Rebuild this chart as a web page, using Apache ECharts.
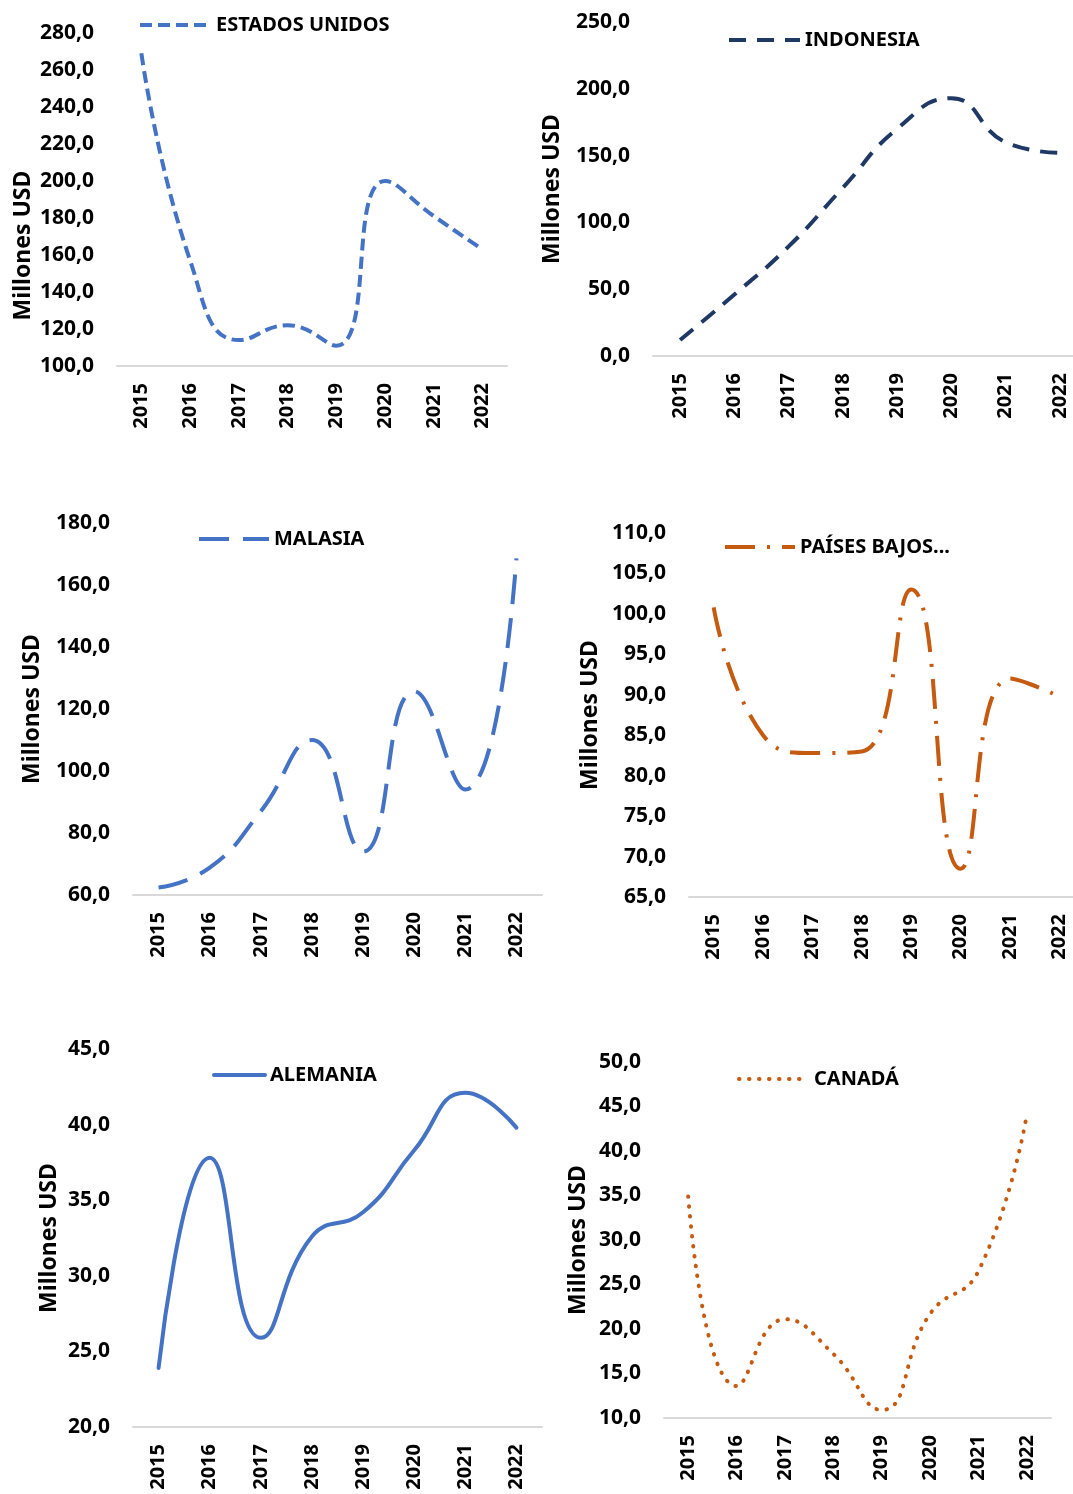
<!DOCTYPE html>
<html>
<head>
<meta charset="utf-8">
<script src="https://cdn.jsdelivr.net/npm/echarts@6/dist/echarts.min.js"></script>
<style>
  html, body { margin: 0; padding: 0; background: #ffffff; overflow: hidden; }
  #chart { width: 1100px; height: 1494px; }
</style>
</head>
<body>
<div id="chart"></div>
<script>
// datos (millones USD)
const years = ['2015', '2016', '2017', '2018', '2019', '2020', '2021', '2022'];
const estadosUnidos = [269, 157, 114, 122, 111, 200, 181, 163];
const indonesia = [12, 46, 82, 126, 170, 193, 160, 152];
const malasia = [62.4, 68.8, 87, 110, 74, 125.7, 94, 168.6];
const paisesBajos = [100.8, 85, 82.8, 83, 103, 68.5, 92, 89.8];
const alemania = [23.9, 37.8, 25.9, 32.6, 34.2, 38.3, 42.1, 39.8];
const canada = [34.9, 13.6, 21.1, 17.2, 10.9, 21.7, 26.5, 44.1];

const blue = '#4472C4';
const navy = '#203864';
const orange = '#C55A11';
const fontFamily = '"Noto Sans", "DejaVu Sans", sans-serif';

// un panel por país (los de la derecha se salen un poco del borde, como en el original)
const panels = [
  { name: 'ESTADOS UNIDOS', data: estadosUnidos, color: blue, dash: [12, 6], cap: 'butt',
    min: 100, max: 280, interval: 20,
    grid: { left: 117, top: 33, width: 390, height: 333 }, nameGap: 82, namePad: 92,
    legend: { left: 138, cy: 23, w: 71, gap: 0 } },
  { name: 'INDONESIA', data: indonesia, color: navy, dash: [17, 11], cap: 'butt',
    min: 0, max: 250, interval: 50,
    grid: { left: 653, top: 22, width: 434, height: 334 }, nameGap: 89, namePad: 0,
    legend: { left: 727, cy: 38, w: 71, gap: 0 } },
  { name: 'MALASIA', data: malasia, color: blue, dash: [30, 14], cap: 'butt',
    min: 60, max: 180, interval: 20,
    grid: { left: 133, top: 523, width: 409, height: 372 }, nameGap: 89, namePad: 0,
    legend: { left: 197, cy: 537, w: 70, gap: 0 } },
  { name: 'PAÍSES BAJOS...', data: paisesBajos, color: orange, dash: [30, 12, 3, 12], cap: 'butt',
    min: 65, max: 110, interval: 5,
    grid: { left: 689, top: 533, width: 395, height: 364 }, nameGap: 87, namePad: 0,
    legend: { left: 723, cy: 545, w: 70, gap: 0 } },
  { name: 'ALEMANIA', data: alemania, color: blue, dash: 'solid', cap: 'round',
    min: 20, max: 45, interval: 5,
    grid: { left: 133, top: 1049, width: 409, height: 378 }, nameGap: 72, namePad: 0,
    legend: { left: 212, cy: 1073, w: 51, gap: 0 } },
  { name: 'CANADÁ', data: canada, color: orange, dash: [0.5, 9.5], cap: 'round',
    min: 10, max: 50, interval: 5,
    grid: { left: 664, top: 1062, width: 387, height: 356 }, nameGap: 74, namePad: 0,
    legend: { left: 737, cy: 1077, w: 64, gap: 6 } }
];

const fmt = v => v.toFixed(1).replace('.', ',');

let myChart = echarts.init(document.getElementById('chart'));

let option = {
  backgroundColor: '#ffffff',
  animation: false,
  textStyle: { fontFamily: fontFamily },
  grid: panels.map(p => p.grid),
  legend: panels.map((p, i) => ({
    data: [p.name],
    left: p.legend.left,
    top: p.legend.cy - 8,
    padding: 0,
    itemWidth: p.legend.w,
    itemHeight: 14,
    itemGap: 0,
    itemStyle: { opacity: 0 },
    lineStyle: { width: 4 },
    textStyle: {
      fontSize: 20, fontWeight: 'bold', color: '#000', fontFamily: fontFamily,
      padding: [0, 0, 0, p.legend.gap]
    }
  })),
  xAxis: panels.map((p, i) => ({
    type: 'category',
    gridIndex: i,
    data: years,
    boundaryGap: true,
    axisTick: { show: false },
    axisLine: { lineStyle: { color: '#d9d9d9', width: 2 } },
    axisLabel: {
      rotate: 90, margin: 17, interval: 0,
      fontSize: 20, fontWeight: 'bold', color: '#000', fontFamily: fontFamily
    },
    splitLine: { show: false }
  })),
  yAxis: panels.map((p, i) => ({
    type: 'value',
    gridIndex: i,
    min: p.min, max: p.max, interval: p.interval,
    name: 'Millones USD',
    nameLocation: 'middle',
    nameGap: p.nameGap,
    nameRotate: 90,
    nameTextStyle: {
      fontSize: 23, fontWeight: 'bold', color: '#000', fontFamily: fontFamily,
      padding: [0, p.namePad, 0, 0]
    },
    axisLine: { show: false },
    axisTick: { show: false },
    splitLine: { show: false },
    axisLabel: {
      formatter: fmt, margin: 23,
      fontSize: 21, fontWeight: 'bold', color: '#000', fontFamily: fontFamily
    }
  })),
  series: panels.map((p, i) => ({
    name: p.name,
    type: 'line',
    xAxisIndex: i,
    yAxisIndex: i,
    data: p.data,
    smooth: 0.5,
    symbol: 'none',
    lineStyle: { color: p.color, width: 4, type: p.dash, cap: p.cap },
    itemStyle: { color: p.color }
  }))
};

myChart.setOption(option);
window.onresize = function () {
  myChart.resize()
}
</script>
</body>
</html>
